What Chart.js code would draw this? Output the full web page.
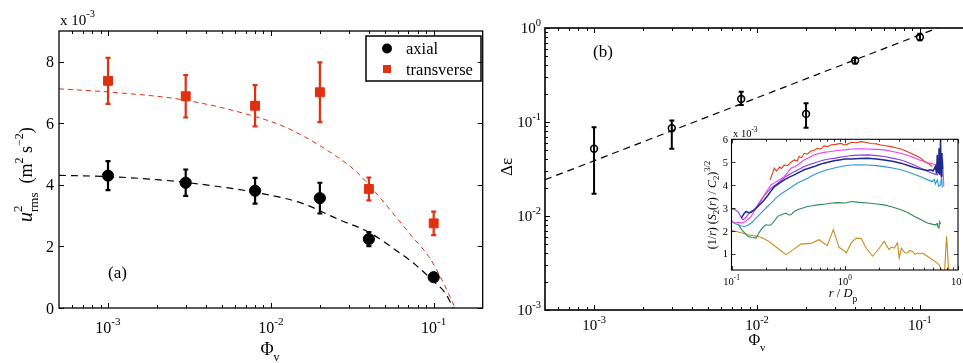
<!DOCTYPE html>
<html>
<head>
<meta charset="utf-8">
<title>Velocity variance and dissipation vs volume fraction</title>
<script src="https://cdn.jsdelivr.net/npm/chart.js@4.4.1/dist/chart.umd.min.js"></script>
<style>
  html, body { margin: 0; padding: 0; background: #fff; overflow: hidden; }
  .wrap { position: relative; width: 963px; height: 363px; overflow: hidden; }
  canvas { position: absolute; top: 0; }
  #chartA { left: 0; }
  #chartB { left: 480px; }
  #inset { left: 690px; top: 120px; }
</style>
</head>
<body>
<div class="wrap">
  <canvas id="chartA" width="490" height="363"></canvas>
  <canvas id="chartB" width="500" height="363"></canvas>
  <canvas id="inset" width="300" height="200"></canvas>
</div>
<script>
/* =========================
   Data
========================= */
const phi = [1e-3, 3e-3, 8e-3, 2e-2, 4e-2, 1e-1];

// panel (a), units of 1e-3 m^2 s^-2
const axial = [4.30, 4.07, 3.81, 3.57, 2.24, 1.00];
const axialErr = [0.47, 0.43, 0.42, 0.50, 0.23, 0.10];
const transverse = [7.38, 6.88, 6.57, 7.01, 3.87, 2.75];
const transverseErr = [0.75, 0.69, 0.67, 0.97, 0.37, 0.38];

const axialFitPhi = [5e-4, 1e-3, 2e-3, 3e-3, 5e-3, 8e-3, 0.0156, 0.0265, 0.0394, 0.0586, 0.0775, 0.0977, 0.118, 0.132];
const axialFitU = [4.31, 4.27, 4.17, 4.08, 3.93, 3.76, 3.40, 2.86, 2.48, 1.88, 1.40, 0.91, 0.48, 0.0];
const transFitPhi = [5e-4, 1e-3, 3e-3, 8e-3, 0.0126, 0.0221, 0.0335, 0.0464, 0.0586, 0.074, 0.0933, 0.1125, 0.1355];
const transFitU = [7.12, 7.02, 6.75, 6.22, 5.85, 5.13, 4.43, 3.61, 2.96, 2.31, 1.67, 0.91, 0.0];

// panel (b)
const deltaEps = [0.052, 0.086, 0.176, 0.122, 0.452, 0.80];
const deltaEpsLo = [0.0172, 0.052, 0.152, 0.087, 0.42, 0.74];
const deltaEpsHi = [0.0877, 0.104, 0.21, 0.158, 0.48, 0.87];
const powerFitPhi = [5e-4, 0.128];
const powerFitDe = [0.0243, 1.0];

// axis ticks
const phiTicks = [1e-3, 1e-2, 1e-1];
const phiTickExp = ['-3', '-2', '-1'];
const uTicks = [0, 2, 4, 6, 8];
const deTicks = [1e-3, 1e-2, 1e-1, 1];
const deTickExp = ['-3', '-2', '-1', '0'];
const insetXTicks = [0.1, 1, 10];
const insetXExp = ['-1', '0', '1'];
const insetYTicks = [1, 2, 3, 4, 5, 6];

// inset curves: [log10(r / Dp), value x 1e-3]
const insetRed = [[-0.66,4.23],[-0.635,4.55],[-0.622,4.74],[-0.605,4.62],[-0.592,4.67],[-0.575,4.80],[-0.56,4.72],[-0.534,4.88],[-0.505,4.85],[-0.475,5.00],[-0.446,5.10],[-0.42,5.05],[-0.402,5.25],[-0.38,5.20],[-0.359,5.39],[-0.33,5.35],[-0.30,5.49],[-0.27,5.52],[-0.242,5.61],[-0.21,5.58],[-0.183,5.71],[-0.15,5.68],[-0.125,5.75],[-0.08,5.78],[-0.037,5.82],[0.0,5.75],[0.03,5.80],[0.057,5.87],[0.10,5.85],[0.145,5.90],[0.19,5.86],[0.232,5.82],[0.28,5.80],[0.32,5.75],[0.36,5.72],[0.408,5.68],[0.45,5.63],[0.496,5.58],[0.54,5.49],[0.583,5.39],[0.63,5.28],[0.671,5.17],[0.70,5.06],[0.73,4.96],[0.75,4.90],[0.773,4.81]];
const insetMagenta = [[-1.0,2.45],[-0.973,2.35],[-0.94,2.38],[-0.90,2.35],[-0.87,2.45],[-0.826,2.64],[-0.80,2.85],[-0.768,3.07],[-0.74,3.30],[-0.71,3.58],[-0.68,3.80],[-0.651,4.01],[-0.62,4.10],[-0.592,4.19],[-0.56,4.28],[-0.534,4.38],[-0.505,4.55],[-0.475,4.74],[-0.446,4.80],[-0.417,4.88],[-0.39,4.98],[-0.358,5.10],[-0.31,5.22],[-0.271,5.32],[-0.23,5.38],[-0.183,5.43],[-0.14,5.46],[-0.095,5.49],[-0.05,5.52],[0.004,5.54],[0.057,5.58],[0.13,5.59],[0.203,5.58],[0.28,5.56],[0.349,5.54],[0.42,5.47],[0.496,5.39],[0.56,5.29],[0.613,5.20],[0.66,5.10],[0.70,5.03],[0.73,4.98],[0.759,4.96],[0.78,4.92],[0.80,4.88],[0.82,4.95],[0.835,4.70],[0.845,5.30],[0.85,4.60],[0.865,5.03],[0.875,3.94]];
const insetPurple = [[-1.031,2.85],[-1.0,2.95],[-0.987,2.97],[-0.965,2.92],[-0.943,2.85],[-0.92,2.65],[-0.90,2.49],[-0.88,2.55],[-0.856,2.71],[-0.83,2.85],[-0.797,2.93],[-0.77,3.12],[-0.739,3.36],[-0.71,3.55],[-0.68,3.72],[-0.64,3.90],[-0.592,4.09],[-0.55,4.25],[-0.519,4.38],[-0.48,4.50],[-0.446,4.59],[-0.40,4.70],[-0.358,4.81],[-0.31,4.90],[-0.271,4.96],[-0.23,5.03],[-0.183,5.10],[-0.14,5.14],[-0.095,5.17],[-0.05,5.21],[0.004,5.25],[0.057,5.29],[0.13,5.31],[0.203,5.32],[0.28,5.29],[0.349,5.25],[0.42,5.18],[0.496,5.10],[0.56,4.99],[0.613,4.88],[0.66,4.77],[0.70,4.67],[0.74,4.58],[0.773,4.52],[0.80,4.47],[0.817,4.45],[0.83,4.55],[0.846,4.59]];
const insetNavy = [[-0.914,2.56],[-0.89,2.75],[-0.87,2.85],[-0.85,2.80],[-0.826,2.82],[-0.80,2.92],[-0.768,3.07],[-0.74,3.20],[-0.71,3.36],[-0.68,3.55],[-0.65,3.75],[-0.62,3.94],[-0.58,4.08],[-0.534,4.23],[-0.49,4.35],[-0.446,4.45],[-0.40,4.57],[-0.358,4.67],[-0.31,4.75],[-0.271,4.81],[-0.23,4.89],[-0.183,4.96],[-0.14,5.01],[-0.095,5.06],[-0.05,5.10],[0.004,5.14],[0.057,5.14],[0.13,5.16],[0.203,5.17],[0.28,5.14],[0.349,5.10],[0.42,5.04],[0.496,4.96],[0.56,4.86],[0.613,4.77],[0.66,4.71],[0.70,4.67],[0.73,4.64],[0.759,4.67],[0.78,4.62],[0.80,4.81],[0.81,4.50],[0.817,5.32],[0.825,4.55],[0.832,5.61],[0.838,4.45],[0.846,5.97],[0.852,4.40],[0.858,5.40],[0.864,4.70]];
const insetBlue = [[-1.002,2.42],[-0.97,2.33],[-0.943,2.27],[-0.91,2.22],[-0.885,2.20],[-0.855,2.25],[-0.826,2.35],[-0.80,2.48],[-0.768,2.64],[-0.74,2.78],[-0.71,2.93],[-0.68,3.08],[-0.651,3.22],[-0.62,3.37],[-0.592,3.51],[-0.55,3.66],[-0.505,3.80],[-0.46,3.95],[-0.417,4.09],[-0.37,4.20],[-0.329,4.30],[-0.285,4.42],[-0.242,4.52],[-0.20,4.60],[-0.154,4.67],[-0.11,4.73],[-0.066,4.78],[0.004,4.85],[0.057,4.88],[0.13,4.89],[0.203,4.88],[0.28,4.85],[0.349,4.81],[0.42,4.75],[0.496,4.67],[0.56,4.57],[0.613,4.48],[0.66,4.39],[0.70,4.30],[0.74,4.22],[0.773,4.16],[0.79,4.25],[0.80,4.05],[0.817,4.23],[0.83,3.95],[0.846,4.01],[0.855,4.40],[0.861,3.90]];
const insetGreen = [[-0.943,2.30],[-0.91,2.05],[-0.88,1.90],[-0.856,1.77],[-0.82,1.72],[-0.782,1.69],[-0.76,1.90],[-0.739,2.06],[-0.715,2.20],[-0.695,2.27],[-0.67,2.25],[-0.651,2.27],[-0.62,2.45],[-0.592,2.64],[-0.555,2.72],[-0.519,2.78],[-0.495,2.70],[-0.475,2.71],[-0.445,2.85],[-0.417,2.93],[-0.37,3.00],[-0.329,3.07],[-0.285,3.10],[-0.242,3.14],[-0.20,3.16],[-0.154,3.19],[-0.11,3.22],[-0.066,3.24],[0.004,3.22],[0.057,3.29],[0.13,3.25],[0.203,3.22],[0.28,3.18],[0.349,3.14],[0.42,3.05],[0.496,2.93],[0.56,2.80],[0.613,2.64],[0.67,2.50],[0.73,2.35],[0.77,2.30],[0.80,2.27],[0.815,2.33],[0.82,2.20],[0.832,2.13],[0.838,2.40],[0.846,2.30]];
const insetOchre = [[-1.0,2.02],[-0.958,1.98],[-0.90,1.90],[-0.856,1.84],[-0.81,1.80],[-0.768,1.77],[-0.72,1.68],[-0.68,1.58],[-0.60,1.28],[-0.519,0.97],[-0.45,1.20],[-0.388,1.43],[-0.30,1.46],[-0.227,1.62],[-0.154,1.36],[-0.101,2.06],[-0.051,1.29],[0.004,1.11],[0.013,1.04],[0.057,1.48],[0.101,1.69],[0.145,1.67],[0.189,1.26],[0.247,0.90],[0.306,1.26],[0.349,1.55],[0.37,1.35],[0.393,1.19],[0.41,1.30],[0.437,1.26],[0.466,1.48],[0.481,0.82],[0.50,1.25],[0.51,1.19],[0.53,1.05],[0.554,1.04],[0.575,1.15],[0.598,1.11],[0.62,0.98],[0.642,1.04],[0.665,1.0],[0.686,1.04],[0.729,0.90],[0.76,0.80],[0.788,0.71],[0.81,0.62],[0.832,0.54],[0.861,0.25],[0.88,0.1],[0.899,1.77],[0.92,0.1]];

/* =========================
   Helpers
========================= */
const SERIF = '"Liberation Serif", "Times New Roman", Times, serif';
const RED = '#e0300f';

// draws a run of text pieces: [text, size, dy, style, noAdvance]
function rich(ctx, parts, x, y, align) {
  let w = 0;
  const items = parts.map(p => {
    const [text, size, dy = 0, style = '', still = false] = p;
    ctx.font = `${style} ${size}px ${SERIF}`;
    const tw = ctx.measureText(text).width;
    if (!still) w += tw;
    return { text, size, dy, style, still, tw };
  });
  let cx = align === 'center' ? x - w / 2 : align === 'right' ? x - w : x;
  ctx.textAlign = 'left';
  ctx.textBaseline = 'alphabetic';
  items.forEach(it => {
    ctx.font = `${it.style} ${it.size}px ${SERIF}`;
    ctx.fillText(it.text, cx, y + it.dy);
    if (!it.still) cx += it.tw;
  });
}

function pow10(ctx, exp, x, y, size, align) {
  rich(ctx, [['10', size, 0], [exp, size * 0.7, -size * 0.5]], x, y, align);
}

function logMinor(lo, hi) {
  const out = [];
  for (let e = Math.floor(Math.log10(lo)); e <= Math.ceil(Math.log10(hi)); e++) {
    for (let m = 2; m <= 9; m++) {
      const v = m * Math.pow(10, e);
      if (v > lo * 1.0001 && v < hi * 0.9999) out.push(v);
    }
  }
  return out;
}

const toPoints = (xs, ys) => xs.map((x, i) => ({ x, y: ys[i] }));
const fromLog = pairs => pairs.map(p => ({ x: Math.pow(10, p[0]), y: p[1] }));

// vertical error bars drawn just before their markers
const errorBars = {
  id: 'errorBars',
  beforeDatasetDraw(chart, args) {
    const ds = chart.data.datasets[args.index];
    if (!ds.errLo) return;
    const { ctx, scales: { x, y } } = chart;
    ctx.save();
    ctx.strokeStyle = ds.errColor;
    ctx.lineWidth = ds.errWidth;
    const cap = 2.5;
    ds.data.forEach((p, i) => {
      const px = x.getPixelForValue(p.x);
      const y0 = y.getPixelForValue(ds.errLo[i]);
      const y1 = y.getPixelForValue(ds.errHi[i]);
      ctx.beginPath();
      ctx.moveTo(px, y0); ctx.lineTo(px, y1);
      ctx.moveTo(px - cap, y0); ctx.lineTo(px + cap, y0);
      ctx.moveTo(px - cap, y1); ctx.lineTo(px + cap, y1);
      ctx.stroke();
    });
    ctx.restore();
  }
};

// box, inward ticks on all four sides, then the labels
function frame(cfg) {
  return {
    id: 'frame',
    beforeDatasetsDraw(chart) {
      if (!cfg.fill) return;
      const { ctx, chartArea: a } = chart;
      ctx.save();
      ctx.fillStyle = '#fff';
      ctx.fillRect(a.left, a.top, a.right - a.left, a.bottom - a.top);
      ctx.restore();
    },
    afterDraw(chart) {
      const { ctx, chartArea: a, scales: { x, y } } = chart;
      ctx.save();
      ctx.strokeStyle = '#000';
      ctx.lineWidth = cfg.tickWidth;
      ctx.beginPath();
      const xt = (vals, len) => vals.forEach(v => {
        const px = Math.round(x.getPixelForValue(v)) + 0.5;
        ctx.moveTo(px, a.bottom); ctx.lineTo(px, a.bottom - len);
        ctx.moveTo(px, a.top); ctx.lineTo(px, a.top + len);
      });
      const yt = (vals, len) => vals.forEach(v => {
        const py = Math.round(y.getPixelForValue(v)) + 0.5;
        ctx.moveTo(a.left, py); ctx.lineTo(a.left + len, py);
        ctx.moveTo(a.right, py); ctx.lineTo(a.right - len, py);
      });
      xt(cfg.xMajor, cfg.major);
      xt(cfg.xMinor || [], cfg.minor);
      yt(cfg.yMajor, cfg.major);
      yt(cfg.yMinor || [], cfg.minor);
      ctx.stroke();
      ctx.lineWidth = cfg.frameWidth;
      ctx.strokeRect(a.left, a.top, a.right - a.left, a.bottom - a.top);
      ctx.fillStyle = '#000';
      cfg.labels(chart, ctx);
      ctx.restore();
    }
  };
}

/* =========================
   Panel (a)
========================= */
new Chart(document.getElementById('chartA'), {
  type: 'scatter',
  data: {
    datasets: [
      {
        data: toPoints(phi, axial),
        pointStyle: 'circle', pointRadius: 5.6,
        backgroundColor: '#000', borderColor: '#000', borderWidth: 1,
        errLo: axial.map((v, i) => v - axialErr[i]),
        errHi: axial.map((v, i) => v + axialErr[i]),
        errColor: '#000', errWidth: 2.2,
        order: 1
      },
      {
        data: toPoints(phi, transverse),
        pointStyle: 'rect', pointRadius: 6.3,
        backgroundColor: RED, borderColor: RED, borderWidth: 1,
        errLo: transverse.map((v, i) => v - transverseErr[i]),
        errHi: transverse.map((v, i) => v + transverseErr[i]),
        errColor: RED, errWidth: 2.2,
        order: 1
      },
      {
        data: toPoints(axialFitPhi, axialFitU),
        showLine: true, pointRadius: 0, borderColor: '#000', borderWidth: 1.2,
        borderDash: [7, 5], cubicInterpolationMode: 'monotone',
        order: 2
      },
      {
        data: toPoints(transFitPhi, transFitU),
        showLine: true, pointRadius: 0, borderColor: RED, borderWidth: 1,
        borderDash: [5, 4], cubicInterpolationMode: 'monotone',
        order: 2
      }
    ]
  },
  options: {
    responsive: false,
    animation: false,
    devicePixelRatio: 1,
    events: [],
    layout: { padding: { left: 59, top: 31, right: 3, bottom: 55 } },
    scales: {
      x: { type: 'logarithmic', min: 5e-4, max: 0.2, display: false },
      y: { type: 'linear', min: 0, max: 9, display: false }
    },
    plugins: { legend: { display: false }, tooltip: { enabled: false } }
  },
  plugins: [errorBars, frame({
    xMajor: phiTicks, xMinor: logMinor(5e-4, 0.2), yMajor: uTicks,
    major: 5, minor: 3, tickWidth: 1, frameWidth: 1.3,
    labels(chart, ctx) {
      const { scales: { x, y } } = chart;
      phiTicks.forEach((v, i) => pow10(ctx, phiTickExp[i], x.getPixelForValue(v), 333, 16, 'center'));
      uTicks.forEach(v => rich(ctx, [[String(v), 16, 0]], 54, y.getPixelForValue(v) + 5.5, 'right'));
      rich(ctx, [['x 10', 15, 0], ['-3', 10.5, -8]], 60, 25, 'left');
      rich(ctx, [['(a)', 17, 0]], 108, 278, 'left');
      rich(ctx, [['\u03A6', 18, 0], ['v', 12, 6]], 270, 355, 'center');

      // y title, rotated
      ctx.save();
      ctx.translate(32, 222);
      ctx.rotate(-Math.PI / 2);
      rich(ctx, [['u', 20, 0, 'italic'], ['2', 13, -10, '', true], ['rms', 13, 6],
        ['  (m', 18, 0], ['2', 12, -9], [' s', 18, 0], ['\u22122', 12, -9], [')', 18, 0]], 0, 0, 'left');
      ctx.restore();

      // legend
      ctx.lineWidth = 1.5;
      ctx.strokeRect(366, 36, 115, 45);
      ctx.beginPath();
      ctx.arc(387, 48.5, 5, 0, Math.PI * 2);
      ctx.fill();
      ctx.fillStyle = RED;
      ctx.fillRect(383, 65, 8, 8);
      ctx.fillStyle = '#000';
      rich(ctx, [['axial', 16.5, 0]], 406, 54, 'left');
      rich(ctx, [['transverse', 16.5, 0]], 406, 75, 'left');
    }
  })]
});

/* =========================
   Panel (b)
========================= */
new Chart(document.getElementById('chartB'), {
  type: 'scatter',
  data: {
    datasets: [
      {
        data: toPoints(phi, deltaEps),
        pointStyle: 'circle', pointRadius: 3.4,
        backgroundColor: 'rgba(0,0,0,0)', borderColor: '#000', borderWidth: 1.6,
        errLo: deltaEpsLo, errHi: deltaEpsHi,
        errColor: '#000', errWidth: 2,
        order: 1
      },
      {
        data: toPoints(powerFitPhi, powerFitDe),
        showLine: true, pointRadius: 0, borderColor: '#000', borderWidth: 1.2,
        borderDash: [7, 5],
        order: 2
      }
    ]
  },
  options: {
    responsive: false,
    animation: false,
    devicePixelRatio: 1,
    events: [],
    layout: { padding: { left: 65, top: 28, right: 11, bottom: 53 } },
    scales: {
      x: { type: 'logarithmic', min: 5e-4, max: 0.2, display: false },
      y: { type: 'logarithmic', min: 1e-3, max: 1, display: false }
    },
    plugins: { legend: { display: false }, tooltip: { enabled: false } }
  },
  plugins: [errorBars, frame({
    xMajor: phiTicks, xMinor: logMinor(5e-4, 0.2), yMajor: deTicks, yMinor: logMinor(1e-3, 1),
    major: 5, minor: 3, tickWidth: 1, frameWidth: 1.6,
    labels(chart, ctx) {
      const { scales: { x, y } } = chart;
      phiTicks.forEach((v, i) => pow10(ctx, phiTickExp[i], x.getPixelForValue(v), 330, 15, 'center'));
      deTicks.forEach((v, i) => pow10(ctx, deTickExp[i], 61, y.getPixelForValue(v) + 5, 15, 'right'));
      rich(ctx, [['(b)', 17, 0]], 113, 57, 'left');
      rich(ctx, [['\u03A6', 16, 0], ['v', 11, 6]], 277, 345, 'center');
      ctx.save();
      ctx.translate(32, 167);
      ctx.rotate(-Math.PI / 2);
      rich(ctx, [['\u0394\u03B5', 17, 0]], 0, 0, 'center');
      ctx.restore();
    }
  })]
});

/* =========================
   Inset
========================= */
const insetSeries = [
  [insetOchre, '#c88c1e'],
  [insetGreen, '#2e8a5a'],
  [insetBlue, '#2b96d8'],
  [insetPurple, '#8c3ce6'],
  [insetMagenta, '#f23cf0'],
  [insetRed, '#e03c14'],
  [insetNavy, '#1e2a8c']
];

new Chart(document.getElementById('inset'), {
  type: 'scatter',
  data: {
    datasets: insetSeries.map(([pairs, color], i) => ({
      data: fromLog(pairs),
      showLine: true, pointRadius: 0,
      borderColor: color, borderWidth: color === '#1e2a8c' ? 1.5 : 1.1,
      order: insetSeries.length - i
    }))
  },
  options: {
    responsive: false,
    animation: false,
    devicePixelRatio: 1,
    events: [],
    layout: { padding: { left: 41.5, top: 19.3, right: 32, bottom: 50 } },
    scales: {
      x: { type: 'logarithmic', min: 0.1, max: 10, display: false },
      y: { type: 'linear', min: 0.3, max: 6, display: false }
    },
    plugins: { legend: { display: false }, tooltip: { enabled: false } }
  },
  plugins: [frame({
    fill: true,
    xMajor: insetXTicks, xMinor: logMinor(0.1, 10), yMajor: insetYTicks,
    major: 4, minor: 2.5, tickWidth: 0.8, frameWidth: 1.1,
    labels(chart, ctx) {
      const { scales: { x, y } } = chart;
      insetXTicks.forEach((v, i) => pow10(ctx, insetXExp[i], x.getPixelForValue(v), 165, 10.5, 'center'));
      insetYTicks.forEach(v => rich(ctx, [[String(v), 10.5, 0]], 38, y.getPixelForValue(v) + 3.5, 'right'));
      rich(ctx, [['x 10', 10.5, 0], ['-3', 7.5, -5]], 43, 17, 'left');
      rich(ctx, [['r', 12.5, 0, 'italic'], [' / ', 12.5, 0], ['D', 12.5, 0, 'italic'], ['p', 9.5, 5]], 153, 177, 'center');
      ctx.save();
      ctx.translate(26, 85);
      ctx.rotate(-Math.PI / 2);
      rich(ctx, [['(1/', 12, 0], ['r', 12, 0, 'italic'], [') (', 12, 0], ['S', 12, 0, 'italic'], ['2', 8.5, 3],
        ['(', 12, 0], ['r', 12, 0, 'italic'], [') / ', 12, 0], ['C', 12, 0, 'italic'], ['2', 8.5, 3],
        [')', 12, 0], ['3/2', 8.5, -6]], 0, 0, 'center');
      ctx.restore();
    }
  })]
});
</script>
</body>
</html>
